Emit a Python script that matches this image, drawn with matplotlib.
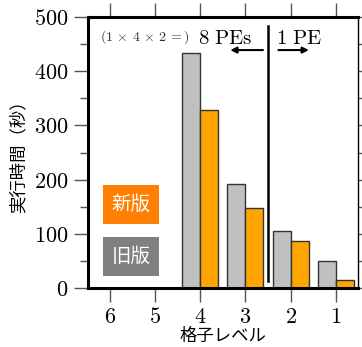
import numpy as np
import matplotlib
matplotlib.use("Agg")
import matplotlib.pyplot as plt
from matplotlib.ticker import MultipleLocator

plt.rcParams["mathtext.fontset"] = "cm"

levels = ["6", "5", "4", "3", "2", "1"]
old_times = [0, 0, 433, 192, 106, 50]
new_times = [0, 0, 328, 148, 87, 14]
jp_font = ["Noto Sans CJK JP", "DejaVu Sans"]

fig = plt.figure(figsize=(3.62, 3.47), dpi=100)
ax = fig.add_axes([0.243, 0.170, 0.746, 0.781])

x = np.arange(len(levels))
w = 0.4
ax.bar(x - w / 2, old_times, w, color="#c0c0c0", edgecolor="#333333", linewidth=1.0, zorder=2)
ax.bar(x + w / 2, new_times, w, color="#ffa500", edgecolor="#333333", linewidth=1.0, zorder=2)

# boundary between 8-PE and 1-PE levels
ax.plot([3.5, 3.5], [13, 483], color="black", lw=1.8, zorder=3)
ax.annotate("", xy=(2.6, 439), xytext=(3.45, 439),
            arrowprops=dict(arrowstyle="-|>", lw=1.5, color="black", mutation_scale=9))
ax.annotate("", xy=(4.47, 439), xytext=(3.67, 439),
            arrowprops=dict(arrowstyle="-|>", lw=1.5, color="black", mutation_scale=9))
ax.text(3.16, 462, r"$8\ \mathrm{PEs}$", ha="right", va="center", fontsize=15)
ax.text(1.76, 456, r"$(1\,\times\,4\,\times\,2\,=)$", ha="right", va="baseline",
        fontsize=10, color="#333333")
ax.text(3.68, 462, r"$1\ \mathrm{PE}$", ha="left", va="center", fontsize=15)

# version labels
ax.text(0.456, 154, "新版", ha="center", va="center", fontsize=14, color="white",
        family=jp_font, bbox=dict(boxstyle="square,pad=0.45", fc="#ff8000", ec="none"))
ax.text(0.456, 58, "旧版", ha="center", va="center", fontsize=14, color="white",
        family=jp_font, bbox=dict(boxstyle="square,pad=0.45", fc="#808080", ec="none"))

ax.set_xlim(-0.5, 5.5)
ax.set_ylim(0, 500)
ax.set_xticks(x)
ax.set_xticklabels([f"${s}$" for s in levels], fontsize=16)
ax.yaxis.set_major_locator(MultipleLocator(100))
ax.yaxis.set_minor_locator(MultipleLocator(50))
ax.set_yticks(np.arange(0, 501, 100))
ax.set_yticklabels([f"${v}$" for v in range(0, 501, 100)], fontsize=16)

ax.tick_params(axis="both", which="major", direction="out", length=10, width=1.0,
               color="#555555", pad=4)
ax.tick_params(axis="y", which="minor", direction="out", length=6, width=1.0, color="#555555")
ax.tick_params(top=True, right=True, which="both")

for side in ["left", "bottom", "top"]:
    ax.spines[side].set_linewidth(2.2)
ax.spines["right"].set_linewidth(1.0)

ax.set_ylabel("実行時間（秒）", family=jp_font, fontsize=12.5, labelpad=5)
ax.set_xlabel("格子レベル", family=jp_font, fontsize=12.5, labelpad=0)

fig.savefig("out.png", dpi=100)
